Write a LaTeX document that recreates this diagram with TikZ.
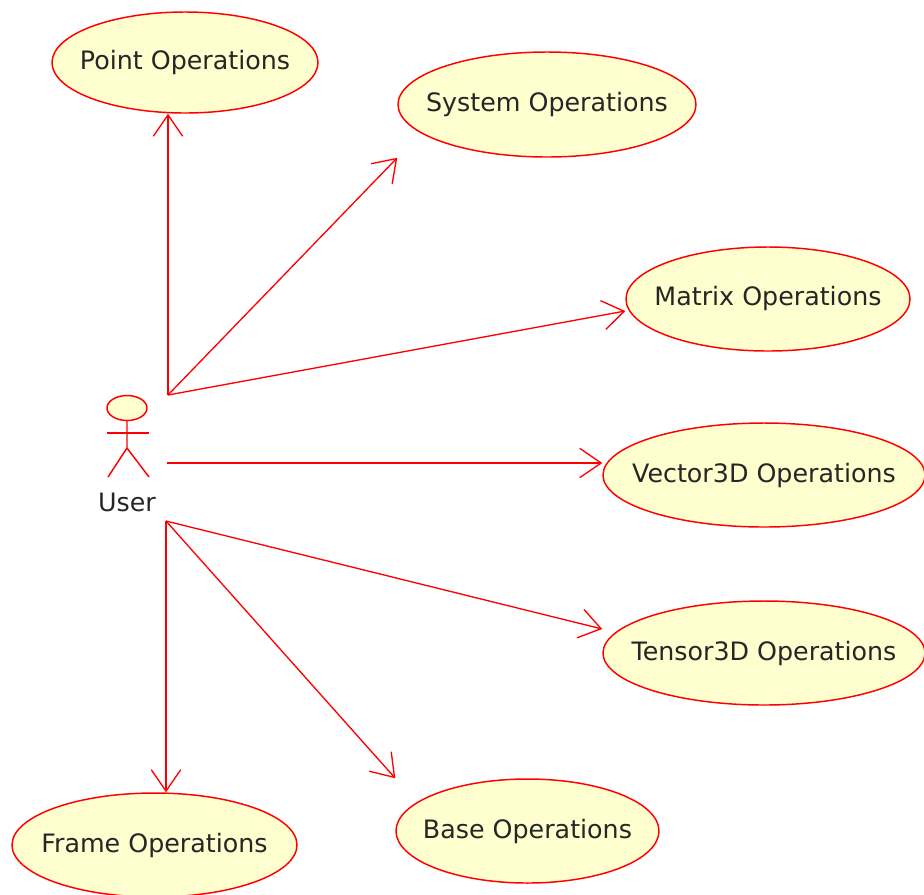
\documentclass[tikz,border=0pt]{standalone}
\usepackage{fontspec}
\setmainfont{DejaVu Sans}
\usetikzlibrary{arrows.meta,shapes.geometric,calc}
\definecolor{usecasefill}{RGB}{254,254,206}
\begin{document}
\begin{tikzpicture}[x=0.75pt,y=0.75pt,yscale=-1,xscale=1,
    usecase/.style={draw=red,fill=usecasefill,ellipse,inner xsep=-60pt,inner ysep=0pt,line width=1.1pt,
        font=\fontsize{19}{23}\selectfont,text=black!85},
    assoc/.style={draw=red,line width=1pt,-{Straight Barb[length=16pt,width=22pt,line width=1pt]}}]
\useasboundingbox (0,0) rectangle (924,894);

%Shape: Ellipse [id:point]
\node[usecase,minimum width=199.5pt,minimum height=75.75pt] (point) at (185,62.5) {Point Operations};
%Shape: Ellipse [id:system]
\node[usecase,minimum width=223.5pt,minimum height=78.75pt] (system) at (547,104.5) {System Operations};
%Shape: Ellipse [id:matrix]
\node[usecase,minimum width=213pt,minimum height=78pt] (matrix) at (768,299) {Matrix Operations};
%Shape: Ellipse [id:vector]
\node[usecase,minimum width=241.5pt,minimum height=78pt] (vector) at (764,475) {Vector3D Operations};
%Shape: Ellipse [id:tensor]
\node[usecase,minimum width=241.5pt,minimum height=78pt] (tensor) at (764,653) {Tensor3D Operations};
%Shape: Ellipse [id:base]
\node[usecase,minimum width=197.25pt,minimum height=78pt] (base) at (527.5,831) {Base Operations};
%Shape: Ellipse [id:frame]
\node[usecase,minimum width=213.75pt,minimum height=78pt] (frame) at (154.5,845) {Frame Operations};

%Actor
\coordinate (actor) at (127,408);
\draw[red,line width=1.1pt,fill=usecasefill] (actor) ellipse [x radius=20,y radius=12.5];
\draw[red,line width=1.1pt] ($(actor)+(0,12.5)$) -- ($(actor)+(0,40)$) -- ($(actor)+(-19,69)$);
\draw[red,line width=1.1pt] ($(actor)+(0,40)$) -- ($(actor)+(22,69)$);
\draw[red,line width=1.1pt] ($(actor)+(-20,25)$) -- ($(actor)+(22,25)$);
% Text Node
\node[font=\fontsize{19}{23}\selectfont,text=black!85,inner sep=0.75pt] (user) at (127,502) {User};

\coordinate (top) at (168,395);
\coordinate (mid) at (167,463);
\coordinate (bot) at (166,521);

%Straight Lines
\draw[assoc] (top) -- (top |- point.south);
\draw[assoc] (top) -- (system.south -| system.west);
\draw[assoc] (top) -- ($(matrix.west)+(0,12)$);
\draw[assoc] (mid) -- (vector.west |- mid);
\draw[assoc] (bot) -- ($(tensor.west)+(0,-24)$);
\draw[assoc] (bot) -- (base.north -| base.west);
\draw[assoc] (bot) -- (bot |- frame.north);
\end{tikzpicture}
\end{document}
